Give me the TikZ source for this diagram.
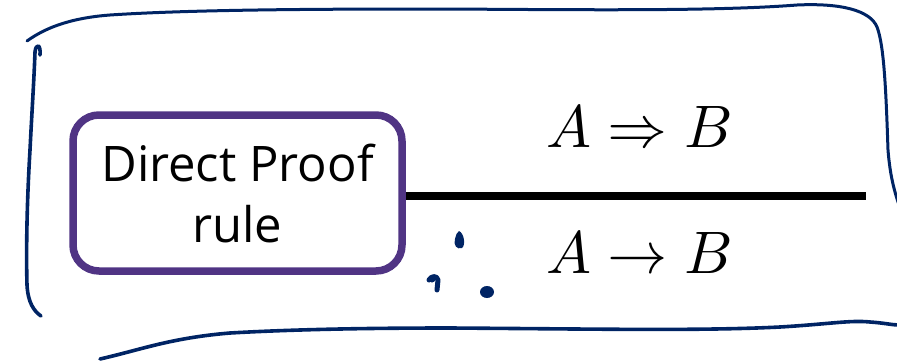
\documentclass[tikz,border=0pt]{standalone}
\usepackage{unicode-math}
\setmainfont{Open Sans}
\setmathfont{Latin Modern Math}
\definecolor{ink}{RGB}{0,36,100}
\definecolor{rulebox}{RGB}{80,52,132}
\tikzset{
  pen/.style={draw=ink, line width=3.6pt, line cap=round, line join=round},
  rulenode/.style={draw=rulebox, line width=7.5pt, rounded corners=26pt,
    minimum width=329pt, minimum height=156pt, align=center, inner sep=0pt,
    font=\fontsize{49}{61}\selectfont},
  formula/.style={inner sep=0pt, font=\fontsize{60}{62}\selectfont},
}
\begin{document}
\begin{tikzpicture}[x=1pt,y=-1pt]
\useasboundingbox (0,0) rectangle (897,362);
% hand-drawn frame
\draw[pen, line width=3pt] (27,41) .. controls (45,28) and (70,18) .. (110,15)
  .. controls (200,9) and (350,9) .. (450,9)
  .. controls (600,10) and (720,11) .. (797,5)
  .. controls (840,3) and (870,10) .. (877,27)
  .. controls (884,45) and (886,90) .. (888,150)
  .. controls (890,175) and (894,190) .. (899,205);
\draw[pen] (40,55) .. controls (41,44) and (36,43) .. (35,52)
  .. controls (34,80) and (32,110) .. (30,150)
  .. controls (27,200) and (26,250) .. (27,285)
  .. controls (28,303) and (34,311) .. (41,316);
\draw[pen] (100,359) .. controls (140,350) and (170,338) .. (230,333)
  .. controls (300,329) and (380,328) .. (450,328)
  .. controls (600,329) and (700,331) .. (780,327)
  .. controls (830,324) and (850,320) .. (870,322)
  .. controls (885,323) and (892,325) .. (899,325);
% rule box and inference line
\node[rulenode] (box) at (237.5,193) {Direct Proof\\rule};
\coordinate (lineend) at (866,196);
\draw[line width=8.5pt] (box.east |- lineend) -- (lineend);
\node[formula] (premise) at (639,127) {$A \Rightarrow B$};
\node[formula] (conclusion) at (639,252) {$A \rightarrow B$};
% ink dots
\fill[ink] (459,231) .. controls (464,233) and (466,245) .. (462,248)
  .. controls (457,250) and (453,245) .. (455,239) .. controls (456,235) and (457,232) .. (459,231) -- cycle;
\draw[pen, line width=5pt] (429,280) .. controls (431,276) and (437,275) .. (438,280) -- (437,290);
\fill[ink] (432,279) circle (3.5pt);
\fill[ink] (487,292) ellipse (7pt and 6pt);
\end{tikzpicture}
\end{document}
